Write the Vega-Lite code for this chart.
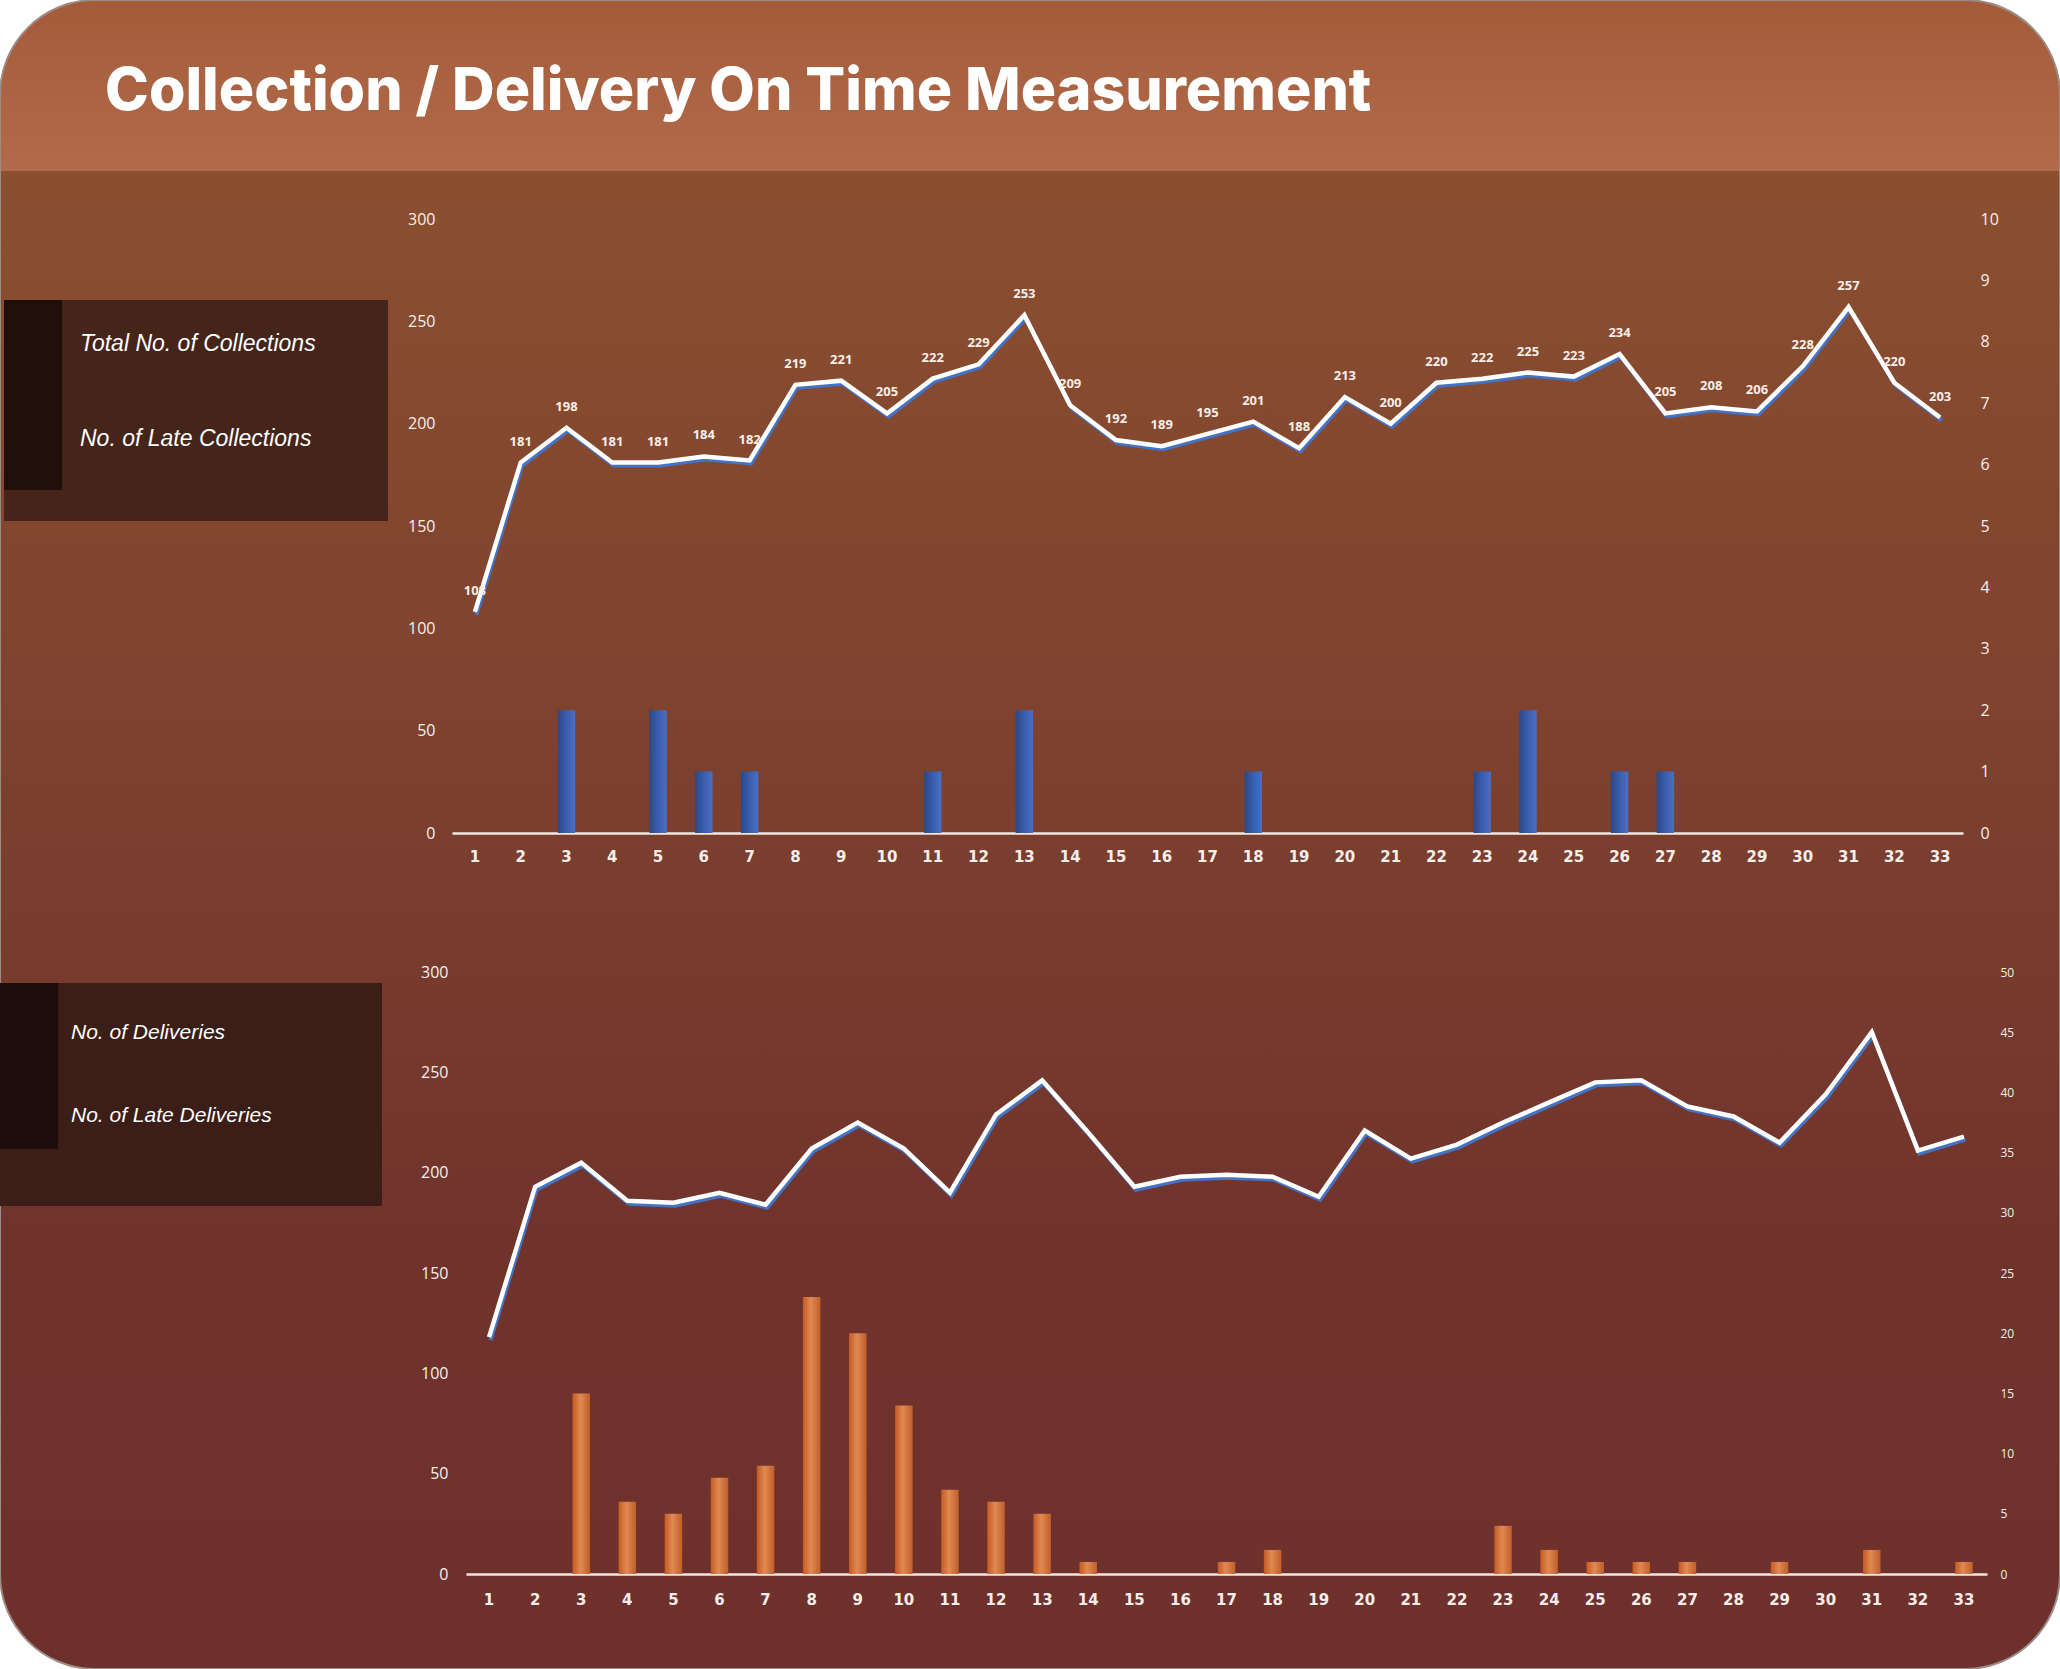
{
  "$schema": "https://vega.github.io/schema/vega-lite/v6.json",
  "width": 2060,
  "height": 1669,
  "autosize": "none",
  "padding": 0,
  "background": "white",
  "view": {
    "cornerRadius": 95,
    "stroke": "#9C8C86",
    "strokeWidth": 2,
    "fill": {
      "gradient": "linear", "x1": 0, "y1": 0, "x2": 0, "y2": 1,
      "stops": [
        {"offset": 0, "color": "#A35B3A"},
        {"offset": 0.1024, "color": "#B26B4A"},
        {"offset": 0.1026, "color": "#8B4F30"},
        {"offset": 0.45, "color": "#7D412F"},
        {"offset": 0.75, "color": "#70332C"},
        {"offset": 1, "color": "#6D302C"}
      ]
    }
  },
  "title": {
    "text": "Collection / Delivery On Time Measurement",
    "anchor": "start",
    "frame": "group",
    "font": "Inter",
    "fontWeight": 800,
    "fontSize": 59,
    "color": "white",
    "baseline": "alphabetic",
    "offset": 0,
    "dx": 105,
    "dy": 169
  },
  "data": {
    "values": [
      {"day": 1, "collections": 108, "lateCollections": 0, "deliveries": 118, "lateDeliveries": 0},
      {"day": 2, "collections": 181, "lateCollections": 0, "deliveries": 193, "lateDeliveries": 0},
      {"day": 3, "collections": 198, "lateCollections": 2, "deliveries": 205, "lateDeliveries": 15},
      {"day": 4, "collections": 181, "lateCollections": 0, "deliveries": 186, "lateDeliveries": 6},
      {"day": 5, "collections": 181, "lateCollections": 2, "deliveries": 185, "lateDeliveries": 5},
      {"day": 6, "collections": 184, "lateCollections": 1, "deliveries": 190, "lateDeliveries": 8},
      {"day": 7, "collections": 182, "lateCollections": 1, "deliveries": 184, "lateDeliveries": 9},
      {"day": 8, "collections": 219, "lateCollections": 0, "deliveries": 212, "lateDeliveries": 23},
      {"day": 9, "collections": 221, "lateCollections": 0, "deliveries": 225, "lateDeliveries": 20},
      {"day": 10, "collections": 205, "lateCollections": 0, "deliveries": 212, "lateDeliveries": 14},
      {"day": 11, "collections": 222, "lateCollections": 1, "deliveries": 190, "lateDeliveries": 7},
      {"day": 12, "collections": 229, "lateCollections": 0, "deliveries": 229, "lateDeliveries": 6},
      {"day": 13, "collections": 253, "lateCollections": 2, "deliveries": 246, "lateDeliveries": 5},
      {"day": 14, "collections": 209, "lateCollections": 0, "deliveries": 220, "lateDeliveries": 1},
      {"day": 15, "collections": 192, "lateCollections": 0, "deliveries": 193, "lateDeliveries": 0},
      {"day": 16, "collections": 189, "lateCollections": 0, "deliveries": 198, "lateDeliveries": 0},
      {"day": 17, "collections": 195, "lateCollections": 0, "deliveries": 199, "lateDeliveries": 1},
      {"day": 18, "collections": 201, "lateCollections": 1, "deliveries": 198, "lateDeliveries": 2},
      {"day": 19, "collections": 188, "lateCollections": 0, "deliveries": 188, "lateDeliveries": 0},
      {"day": 20, "collections": 213, "lateCollections": 0, "deliveries": 221, "lateDeliveries": 0},
      {"day": 21, "collections": 200, "lateCollections": 0, "deliveries": 207, "lateDeliveries": 0},
      {"day": 22, "collections": 220, "lateCollections": 0, "deliveries": 214, "lateDeliveries": 0},
      {"day": 23, "collections": 222, "lateCollections": 1, "deliveries": 225, "lateDeliveries": 4},
      {"day": 24, "collections": 225, "lateCollections": 2, "deliveries": 235, "lateDeliveries": 2},
      {"day": 25, "collections": 223, "lateCollections": 0, "deliveries": 245, "lateDeliveries": 1},
      {"day": 26, "collections": 234, "lateCollections": 1, "deliveries": 246, "lateDeliveries": 1},
      {"day": 27, "collections": 205, "lateCollections": 1, "deliveries": 233, "lateDeliveries": 1},
      {"day": 28, "collections": 208, "lateCollections": 0, "deliveries": 228, "lateDeliveries": 0},
      {"day": 29, "collections": 206, "lateCollections": 0, "deliveries": 215, "lateDeliveries": 1},
      {"day": 30, "collections": 228, "lateCollections": 0, "deliveries": 239, "lateDeliveries": 0},
      {"day": 31, "collections": 257, "lateCollections": 0, "deliveries": 270, "lateDeliveries": 2},
      {"day": 32, "collections": 220, "lateCollections": 0, "deliveries": 211, "lateDeliveries": 0},
      {"day": 33, "collections": 203, "lateCollections": 0, "deliveries": 218, "lateDeliveries": 1}
    ]
  },
  "layer": [
    {
      "mark": {
        "type": "bar",
        "width": {"band": 0.38},
        "color": {
          "gradient": "linear", "x1": 0, "y1": 0, "x2": 1, "y2": 0,
          "stops": [
            {"offset": 0, "color": "#2B4785"},
            {"offset": 0.5, "color": "#3A5EAE"},
            {"offset": 1, "color": "#4A6FC4"}
          ]
        }
      },
      "encoding": {
        "x": {
          "field": "day", "type": "ordinal", "sort": null,
          "scale": {"type": "band", "range": [452, 1963], "paddingInner": 0, "paddingOuter": 0},
          "axis": {
            "orient": "bottom", "offset": -836, "title": null, "grid": false, "ticks": false,
            "labelAngle": 0, "labelFont": "DejaVu Sans", "labelFontSize": 15, "labelFontWeight": "bold",
            "labelColor": "#F7EEEA", "labelPadding": 16, "domainColor": "#F2E6E0", "domainWidth": 2.5
          }
        },
        "y": {
          "field": "lateCollections", "type": "quantitative",
          "scale": {"domain": [0, 10], "range": [833, 219], "nice": false},
          "axis": {
            "orient": "right", "offset": -97, "title": null, "grid": false, "ticks": false, "domain": false,
            "values": [0, 1, 2, 3, 4, 5, 6, 7, 8, 9, 10],
            "labelFont": "Open Sans", "labelFontSize": 16, "labelColor": "#F7EEEA", "labelPadding": 17
          }
        }
      }
    },
    {
      "mark": {"type": "line", "stroke": "#4472C4", "strokeWidth": 4, "xOffset": 1.5, "yOffset": 3},
      "encoding": {
        "x": {"field": "day", "type": "ordinal", "sort": null, "axis": null,
          "scale": {"type": "band", "range": [452, 1963], "paddingInner": 0, "paddingOuter": 0}},
        "y": {"field": "collections", "type": "quantitative", "axis": null,
          "scale": {"domain": [0, 300], "range": [833, 219], "nice": false}}
      }
    },
    {
      "mark": {"type": "line", "stroke": "white", "strokeWidth": 4.5},
      "encoding": {
        "x": {"field": "day", "type": "ordinal", "sort": null, "axis": null,
          "scale": {"type": "band", "range": [452, 1963], "paddingInner": 0, "paddingOuter": 0}},
        "y": {
          "field": "collections", "type": "quantitative",
          "scale": {"domain": [0, 300], "range": [833, 219], "nice": false},
          "axis": {
            "orient": "left", "offset": -452, "title": null, "grid": false, "ticks": false, "domain": false,
            "values": [0, 50, 100, 150, 200, 250, 300],
            "labelFont": "Open Sans", "labelFontSize": 16, "labelColor": "#F7EEEA", "labelPadding": 17
          }
        }
      }
    },
    {
      "mark": {"type": "text", "color": "#F7EEEA", "fontSize": 13, "fontWeight": "bold", "font": "Open Sans", "dy": -21},
      "encoding": {
        "x": {"field": "day", "type": "ordinal", "sort": null, "axis": null,
          "scale": {"type": "band", "range": [452, 1963], "paddingInner": 0, "paddingOuter": 0}},
        "y": {"field": "collections", "type": "quantitative", "axis": null,
          "scale": {"domain": [0, 300], "range": [833, 219], "nice": false}},
        "text": {"field": "collections", "type": "quantitative"}
      }
    },
    {
      "mark": {
        "type": "bar",
        "width": {"band": 0.38},
        "color": {
          "gradient": "linear", "x1": 0, "y1": 0, "x2": 1, "y2": 0,
          "stops": [
            {"offset": 0, "color": "#C55A22"},
            {"offset": 0.45, "color": "#E08A52"},
            {"offset": 1, "color": "#BF5E2C"}
          ]
        }
      },
      "encoding": {
        "x": {
          "field": "day", "type": "ordinal", "sort": null,
          "scale": {"type": "band", "range": [466, 1987], "paddingInner": 0, "paddingOuter": 0},
          "axis": {
            "orient": "bottom", "offset": -95, "title": null, "grid": false, "ticks": false,
            "labelAngle": 0, "labelFont": "DejaVu Sans", "labelFontSize": 15, "labelFontWeight": "bold",
            "labelColor": "#F7EEEA", "labelPadding": 18, "domainColor": "#F2E6E0", "domainWidth": 2.5
          }
        },
        "y": {
          "field": "lateDeliveries", "type": "quantitative",
          "scale": {"domain": [0, 50], "range": [1574, 972], "nice": false},
          "axis": {
            "orient": "right", "offset": -73, "title": null, "grid": false, "ticks": false, "domain": false,
            "values": [0, 5, 10, 15, 20, 25, 30, 35, 40, 45, 50],
            "labelFont": "Open Sans", "labelFontSize": 12, "labelColor": "#F7EEEA", "labelPadding": 13
          }
        }
      }
    },
    {
      "mark": {"type": "line", "stroke": "#4472C4", "strokeWidth": 4, "xOffset": 1.5, "yOffset": 3},
      "encoding": {
        "x": {"field": "day", "type": "ordinal", "sort": null, "axis": null,
          "scale": {"type": "band", "range": [466, 1987], "paddingInner": 0, "paddingOuter": 0}},
        "y": {"field": "deliveries", "type": "quantitative", "axis": null,
          "scale": {"domain": [0, 300], "range": [1574, 972], "nice": false}}
      }
    },
    {
      "mark": {"type": "line", "stroke": "white", "strokeWidth": 4.5},
      "encoding": {
        "x": {"field": "day", "type": "ordinal", "sort": null, "axis": null,
          "scale": {"type": "band", "range": [466, 1987], "paddingInner": 0, "paddingOuter": 0}},
        "y": {
          "field": "deliveries", "type": "quantitative",
          "scale": {"domain": [0, 300], "range": [1574, 972], "nice": false},
          "axis": {
            "orient": "left", "offset": -466, "title": null, "grid": false, "ticks": false, "domain": false,
            "values": [0, 50, 100, 150, 200, 250, 300],
            "labelFont": "Open Sans", "labelFontSize": 16, "labelColor": "#F7EEEA", "labelPadding": 18
          }
        }
      }
    },
    {
      "data": {"values": []},
      "mark": {"type": "point", "filled": true},
      "encoding": {
        "fill": {
          "datum": "Total No. of Collections", "type": "nominal",
          "scale": {"domain": ["Total No. of Collections", "No. of Late Collections"], "range": ["#201009", "#201009"]},
          "legend": {
            "orient": "none", "legendX": 4, "legendY": 300, "padding": 0,
            "title": " ", "titleOrient": "bottom", "titleFontSize": 20, "titlePadding": 11,
            "fillColor": "#45251A", "strokeColor": null,
            "symbolType": "M-1,-1H0.318V1.159H-1Z M7.727,0L7.727,0.001",
            "symbolSize": 7744, "symbolStrokeWidth": 0, "symbolOffset": 0, "symbolOpacity": 1,
            "labelOffset": -12, "labelFont": "Liberation Sans", "labelFontStyle": "italic", "labelFontSize": 23,
            "labelColor": "white", "labelLimit": 0, "rowPadding": 0
          }
        }
      }
    },
    {
      "data": {"values": []},
      "mark": {"type": "point", "filled": true, "color": "#1C0D0A"},
      "encoding": {
        "opacity": {
          "datum": "No. of Deliveries", "type": "ordinal",
          "scale": {"domain": ["No. of Deliveries", "No. of Late Deliveries"], "range": [1, 1]},
          "legend": {
            "orient": "none", "legendX": 0, "legendY": 983, "padding": 0,
            "title": " ", "titleOrient": "bottom", "titleFontSize": 40, "titlePadding": 17,
            "fillColor": "#3B1E18", "strokeColor": null,
            "symbolType": "M-1,-1H0.16V0.66H-1Z M6.64,0L6.64,0.001",
            "symbolSize": 10000, "symbolStrokeWidth": 0, "symbolOffset": 0,
            "labelOffset": -29, "labelFont": "Liberation Sans", "labelFontStyle": "italic", "labelFontSize": 21,
            "labelColor": "white", "labelLimit": 0, "rowPadding": 0
          }
        }
      }
    }
  ],
  "resolve": {"scale": {"x": "independent", "y": "independent"}}
}
